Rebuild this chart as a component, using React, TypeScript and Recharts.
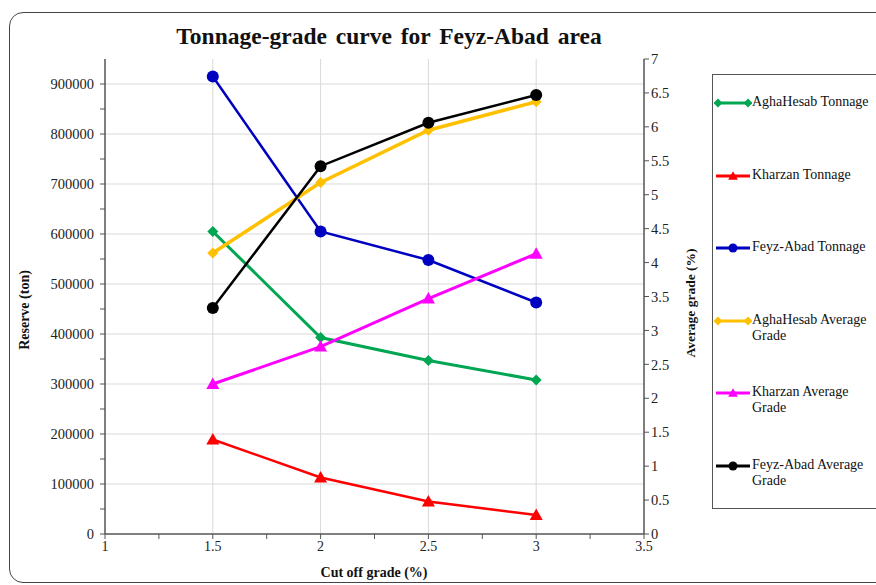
import { LineChart, Line, XAxis, YAxis, CartesianGrid } from 'recharts';

// cut-off grade (%)
const cutoff = [1.5, 2, 2.5, 3];

// tonnage (left axis)
const aghaTonnage = [605000, 393000, 347000, 308000];
const kharzanTonnage = [189000, 113000, 65000, 38000];
const feyzTonnage = [915000, 605000, 548000, 463000];

// average grade (right axis)
const aghaGrade = [4.14, 5.18, 5.95, 6.37];
const kharzanGrade = [2.21, 2.76, 3.47, 4.13];
const feyzGrade = [3.33, 5.42, 6.06, 6.47];

const xTicks = [1, 1.25, 1.5, 1.75, 2, 2.25, 2.5, 2.75, 3, 3.25, 3.5];
const leftTicks = [0, 50000, 100000, 150000, 200000, 250000, 300000, 350000, 400000, 450000, 500000, 550000, 600000, 650000, 700000, 750000, 800000, 850000, 900000];
const rightTicks = [0, 0.5, 1, 1.5, 2, 2.5, 3, 3.5, 4, 4.5, 5, 5.5, 6, 6.5, 7];

const SERIES = [
  { key: 'aghaTon', name: 'AghaHesab Tonnage', values: aghaTonnage, color: '#00a651', shape: 'diamond', axis: 'left', width: 3 },
  { key: 'kharzanTon', name: 'Kharzan Tonnage', values: kharzanTonnage, color: '#ff0000', shape: 'triangle', axis: 'left', width: 2.5 },
  { key: 'feyzTon', name: 'Feyz-Abad Tonnage', values: feyzTonnage, color: '#0000c0', shape: 'circle', axis: 'left', width: 2.5 },
  { key: 'aghaGrade', name: 'AghaHesab Average Grade', values: aghaGrade, color: '#ffc000', shape: 'diamond', axis: 'right', width: 3.5 },
  { key: 'kharzanGrade', name: 'Kharzan Average Grade', values: kharzanGrade, color: '#ff00ff', shape: 'triangle', axis: 'right', width: 3 },
  { key: 'feyzGrade', name: 'Feyz-Abad Average Grade', values: feyzGrade, color: '#000000', shape: 'circle', axis: 'right', width: 2.5 },
];

const data = cutoff.map((c, i) => {
  const row: any = { cutoff: c };
  SERIES.forEach((s) => { row[s.key] = s.values[i]; });
  return row;
});

const FONT = '"Liberation Serif", "Times New Roman", serif';

function Marker({ cx, cy, shape, color, size = 1 }: any) {
  if (cx == null || cy == null) return null;
  if (shape === 'diamond') {
    const r = 5.5 * size;
    return <path d={`M${cx},${cy - r}L${cx + r},${cy}L${cx},${cy + r}L${cx - r},${cy}Z`} fill={color} />;
  }
  if (shape === 'triangle') {
    const r = 6.5 * size;
    return <path d={`M${cx},${cy - r}L${cx + r},${cy + r * 0.75}L${cx - r},${cy + r * 0.75}Z`} fill={color} />;
  }
  return <circle cx={cx} cy={cy} r={6 * size} fill={color} />;
}

function LegendBox() {
  return (
    <div style={{ position: 'absolute', left: 712, top: 74, width: 180, height: 435, border: '1.5px solid #555', boxSizing: 'border-box', background: '#fff' }}>
      {SERIES.map((s, i) => (
        <div key={s.key} style={{ position: 'absolute', left: 1, top: 19 + i * 72.6, display: 'flex', alignItems: 'flex-start' }}>
          <svg width={38} height={16} style={{ flex: 'none' }}>
            <line x1={2} y1={9} x2={36} y2={9} stroke={s.color} strokeWidth={3} />
            {s.shape === 'diamond' ? (
              <>
                <Marker cx={4} cy={9} shape="diamond" color={s.color} size={0.8} />
                <Marker cx={34} cy={9} shape="diamond" color={s.color} size={0.8} />
              </>
            ) : (
              <Marker cx={19} cy={9} shape={s.shape} color={s.color} size={0.75} />
            )}
          </svg>
          <span style={{ fontFamily: FONT, fontSize: 14, lineHeight: '16px', color: '#111', width: 128 }}>{s.name}</span>
        </div>
      ))}
    </div>
  );
}

export default function App() {
  return (
    <div style={{ position: 'fixed', left: 0, top: 0, width: 876, height: 585, background: '#fff', overflow: 'hidden', fontFamily: FONT }}>
      <div style={{ position: 'absolute', left: 9, top: 12, width: 890, height: 571, border: '1.5px solid #444', borderRadius: 14, boxSizing: 'border-box' }} />
      <div style={{ position: 'absolute', left: 0, width: 778, top: 23, textAlign: 'center', fontSize: 23.5, fontWeight: 'bold', color: '#111', wordSpacing: 3 }}>
        Tonnage-grade curve for Feyz-Abad area
      </div>
      <div style={{ position: 'absolute', left: 25, top: 310, transform: 'translate(-50%, -50%) rotate(-90deg)', fontSize: 14, fontWeight: 'bold', whiteSpace: 'nowrap', color: '#111' }}>
        Reserve (ton)
      </div>
      <div style={{ position: 'absolute', left: 691, top: 303, transform: 'translate(-50%, -50%) rotate(-90deg)', fontSize: 13.5, fontWeight: 'bold', whiteSpace: 'nowrap', color: '#111' }}>
        Average grade (%)
      </div>
      <div style={{ position: 'absolute', left: 374, top: 573, transform: 'translate(-50%, -50%)', fontSize: 14, fontWeight: 'bold', whiteSpace: 'nowrap', color: '#111' }}>
        Cut off grade (%)
      </div>
      <div style={{ position: 'absolute', left: 0, top: 0 }}>
        <LineChart width={876} height={585} data={data} margin={{ top: 59, right: 187, bottom: 21, left: 25 }}>
          <CartesianGrid
            yAxisId="left"
            stroke="#d9d9d9"
            strokeWidth={1}
            horizontalCoordinatesGenerator={({ offset }: any) =>
              leftTicks.filter((t) => t % 100000 === 0 && t > 0).map((t) => offset.top + offset.height * (1 - t / 950000))
            }
            verticalCoordinatesGenerator={({ offset }: any) =>
              xTicks.filter((t) => t % 0.5 === 0 && t > 1 && t < 3.5).map((t) => offset.left + offset.width * ((t - 1) / 2.5))
            }
          />
          <XAxis
            dataKey="cutoff"
            type="number"
            domain={[1, 3.5]}
            ticks={xTicks}
            interval={0}
            height={30}
            tickFormatter={(v: number) => (v % 0.5 === 0 ? String(v) : '')}
            tick={{ fontSize: 14, fill: '#222', fontFamily: FONT }}
            axisLine={{ stroke: '#555', strokeWidth: 1.5 }}
            tickLine={{ stroke: '#555' }}
            tickSize={5}
          />
          <YAxis
            yAxisId="left"
            domain={[0, 950000]}
            ticks={leftTicks}
            interval={0}
            width={80}
            tickFormatter={(v: number) => (v % 100000 === 0 ? String(v) : '')}
            tick={{ fontSize: 14.5, fill: '#222', fontFamily: FONT, dx: -4 }}
            axisLine={{ stroke: '#555', strokeWidth: 1.5 }}
            tickLine={{ stroke: '#555' }}
            tickSize={5}
          />
          <YAxis
            yAxisId="right"
            orientation="right"
            domain={[0, 7]}
            ticks={rightTicks}
            interval={0}
            width={45}
            tick={{ fontSize: 14.5, fill: '#222', fontFamily: FONT }}
            axisLine={{ stroke: '#555', strokeWidth: 1.5 }}
            tickLine={{ stroke: '#555' }}
            tickSize={5}
          />
          {SERIES.map((s) => (
            <Line
              key={s.key}
              yAxisId={s.axis}
              dataKey={s.key}
              name={s.name}
              stroke={s.color}
              strokeWidth={s.width}
              isAnimationActive={false}
              dot={(p: any) => <Marker key={`${s.key}-${p.index}`} cx={p.cx} cy={p.cy} shape={s.shape} color={s.color} />}
              activeDot={false}
            />
          ))}
        </LineChart>
      </div>
      <LegendBox />
    </div>
  );
}
